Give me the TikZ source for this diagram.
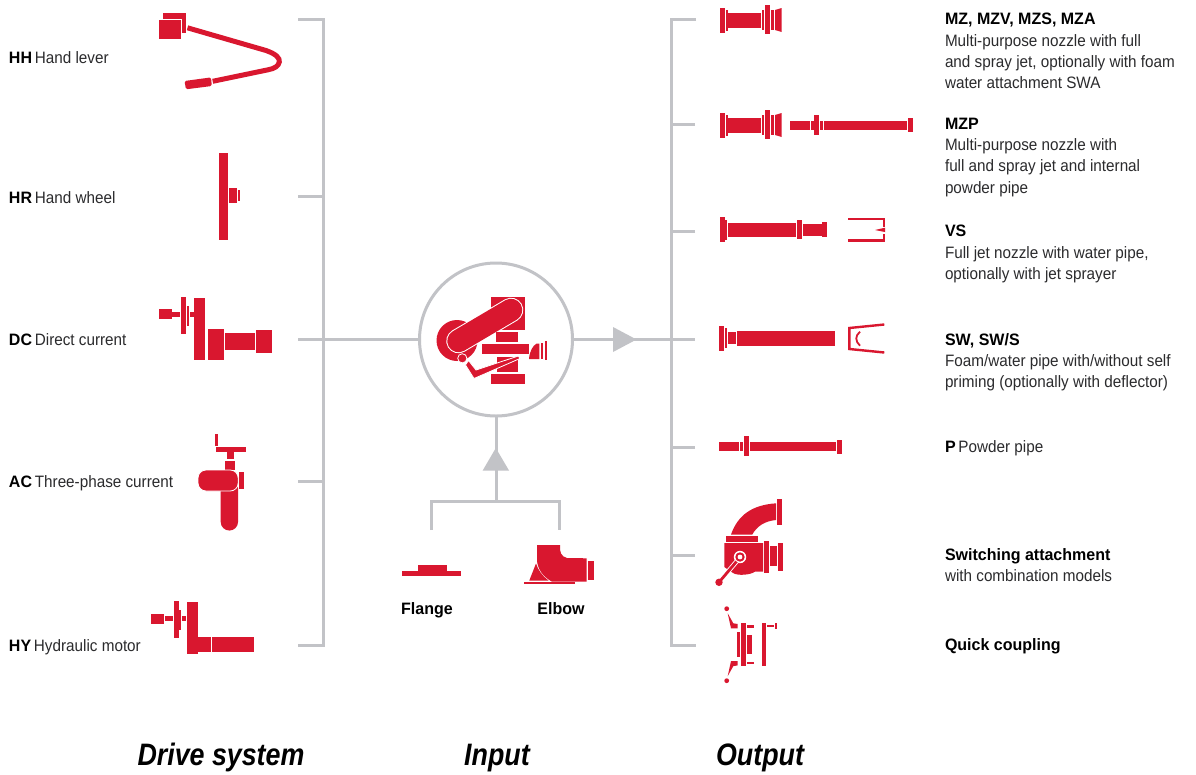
\documentclass[tikz,border=0pt]{standalone}
\usepackage{fontspec}
\setmainfont{Liberation Sans}[FakeStretch=0.925]
\newfontfamily\boldf{Liberation Sans}[FakeStretch=0.97,UprightFont={* Bold}]
\newfontfamily\headf{Liberation Sans}[FakeStretch=0.865,UprightFont={* Bold Italic}]
\newcommand{\bt}[1]{{\boldf\color{black}#1}\kern-1.5pt\relax}
\definecolor{crim}{HTML}{D9172F}
\definecolor{rule}{HTML}{C2C3C7}
\definecolor{ink}{HTML}{2B2B2D}
\tikzset{
  part/.style={fill=crim,draw=none},
  outl/.style={fill=crim,draw=white,line width=0.8pt},
  wire/.style={draw=crim,line width=2.4pt,fill=none},
  tree/.style={draw=rule,line width=3pt},
  tip/.style={fill=rule,draw=none},
  lab/.style={anchor=base west,inner sep=0pt,outer sep=0pt,text=ink,font=\fontsize{16.5}{18}\selectfont},
  blab/.style={lab,text=black,font=\fontsize{16.5}{18}\selectfont\boldf},
  clab/.style={anchor=base,inner sep=0pt,outer sep=0pt,text=black,font=\fontsize{16.5}{18}\selectfont\boldf},
  head/.style={anchor=base,inner sep=0pt,outer sep=0pt,text=black,font=\fontsize{31}{34}\selectfont\headf},
  hubc/.style={circle,draw=rule,line width=3pt,minimum size=153pt,inner sep=0pt,outer sep=0pt},
}
\begin{document}
\begin{tikzpicture}[x=1pt,y=-1pt]
\fill[white] (0,0) rectangle (1196,774);
\useasboundingbox (0,0) rectangle (1196,774);

% ---------- tree ----------
\node[hubc] (hub) at (496,339.5) {};
\coordinate (ltop) at (323,19.5);
\coordinate (lbot) at (323,645);
\coordinate (l1) at (298,19.5);
\coordinate (l2) at (298,196.5);
\coordinate (l3) at (298,339.5);
\coordinate (l4) at (298,481);
\coordinate (l5) at (298,645);
\coordinate (rtop) at (671.5,19.5);
\coordinate (rbot) at (671.5,645);
\coordinate (r1) at (696,19.5);
\coordinate (r2) at (695,124.5);
\coordinate (r3) at (695,231);
\coordinate (r4) at (695,339.5);
\coordinate (r5) at (695,447);
\coordinate (r6) at (695,555);
\coordinate (r7) at (696,645);
\coordinate (inj) at (496,501.3);
\coordinate (inl) at (431.7,530);
\coordinate (inr) at (559.3,530);
\draw[tree,line join=miter] (l1) -- (ltop) -- (lbot) -- (l5);
\draw[tree] (l2) -- (l2-|ltop);
\draw[tree] (l4) -- (l4-|ltop);
\draw[tree] (l3) -- (hub.west);
\draw[tree,line join=miter] (r1) -- (rtop) -- (rbot) -- (r7);
\foreach \c in {r2,r3,r5,r6}{\draw[tree] (\c) -- (\c-|rtop);}
\draw[tree] (hub.east) -- (r4);
\draw[tree] (hub.south) -- (inj);
\draw[tree,line join=miter] (inl) -- (inl|-inj) -- (inr|-inj) -- (inr);
\fill[tip] (613,327) -- (636.5,339.5) -- (613,352) -- cycle;
\fill[tip] (495.8,448) -- (509,470.5) -- (482.7,470.5) -- cycle;

% ---------- HH ----------
\fill[part] (163.3,13.3) rectangle (186,32.7);
\fill[outl] (158,19) rectangle (181,39);
\draw[crim,line width=5pt] (187.5,27.8) -- (266,50.5) .. controls (276,54) and (280,58) .. (279.3,62) .. controls (278.5,66) and (275,68.5) .. (268,69.8) -- (212.7,81.3);
\fill[part,rounded corners=1.5pt] (184.5,81) -- (211,77.4) -- (211.8,86) -- (186,89.3) -- cycle;

% ---------- HR ----------
\fill[part] (219,153) rectangle (228,240);
\fill[part] (229,188) rectangle (237,203);
\fill[part] (238,190) rectangle (240,201);

% ---------- DC ----------
\fill[part] (159,309) rectangle (172,319);
\fill[part] (172,312) rectangle (180,317);
\fill[part] (181,297) rectangle (186,334);
\fill[part] (187,306) rectangle (189,326);
\fill[part] (190,312) rectangle (194,317);
\fill[part] (194,298) rectangle (205,360);
\fill[part] (208,329) rectangle (224,360);
\fill[part] (225,333) rectangle (255,350);
\fill[part] (256,330) rectangle (272,353);

% ---------- AC ----------
\fill[part] (215,434) rectangle (218,446);
\fill[part] (216,447) rectangle (246,452);
\fill[part] (227,452) rectangle (234,459);
\fill[part] (225,460.7) rectangle (235.3,470);
\fill[part,rounded corners=8.5pt] (220.7,480) rectangle (238,530.5);
\fill[outl,rounded corners=8pt] (198,470) rectangle (238.2,491);
\fill[part] (239,472) rectangle (244,489);

% ---------- HY ----------
\fill[part] (151,614) rectangle (164,624);
\fill[part] (165,616) rectangle (173,621);
\fill[part] (174,601) rectangle (179,638);
\fill[part] (179,610) rectangle (181,630);
\fill[part] (182,616) rectangle (186,621);
\fill[part] (187,602) rectangle (198,654);
\fill[part] (198,637) rectangle (211,652);
\fill[part] (212,637) rectangle (254,652);

% ---------- hub symbol ----------
\fill[part] (457,340.5) circle[radius=20.5];
\fill[part] (490.7,297) rectangle (524.7,330.3);
\draw[white,line width=24.5pt,line cap=round] (458.5,341) -- (511,310);
\draw[crim,line width=22.5pt,line cap=round] (458.5,341) -- (511,310);
\fill[part] (496,332.3) rectangle (518,341.7);
\fill[part] (496.7,356.7) rectangle (518,372.3);
\fill[part] (491,374) rectangle (525,384);
\fill[outl] (465.5,365) -- (474,378.5) -- (520,358.5) -- (518.3,356) -- (476,370) -- (468.5,360.5) -- cycle;
\fill[outl] (462.3,358.3) circle[radius=4.6];
\fill[part] (482,343.7) rectangle (529,354.3);
\fill[part] (529,359.2) .. controls (529.5,351) and (533,345.5) .. (536.5,343.7) -- (539.3,343.7) -- (539.3,359.2) -- cycle;
\fill[part] (540.7,342.7) rectangle (543.3,359);
\fill[part] (545.3,341) rectangle (547,360.3);

% ---------- flange / elbow ----------
\fill[part] (402,571) rectangle (461,576);
\fill[part] (418,565) rectangle (447,571);
\fill[part] (537,545) -- (560,545) .. controls (559.5,552) and (561,556.5) .. (567,558) -- (586.7,558.3) -- (586.7,581.7) -- (552,581.7) .. controls (542,576) and (538,569) .. (537,561) -- cycle;
\fill[part] (536,563.5) .. controls (538,570) and (542,575.5) .. (548.5,580.5) -- (529.3,580.5) -- cycle;
\fill[part] (588,561) rectangle (594,580);
\fill[part] (524,581.8) rectangle (575,583.8);

% ---------- MZ / MZP nozzles ----------
\foreach \d in {0,105}{
  \fill[part] (720,8+\d) rectangle (725,33+\d);
  \fill[part] (726,10+\d) rectangle (728,31+\d);
  \fill[part] (728,13+\d) rectangle (761,28+\d);
  \fill[part] (762,10+\d) rectangle (764,30+\d);
  \fill[part] (765,5+\d) rectangle (770,34+\d);
  \fill[part] (771,10+\d) rectangle (774,30+\d);
  \fill[part] (775,10+\d) -- (781.7,8+\d) -- (781.7,32+\d) -- (775,30+\d) -- cycle;
}
\fill[part] (790,121) rectangle (810,130);
\fill[part] (811,121) rectangle (814,130);
\fill[part] (814,115) rectangle (819,135);
\fill[part] (820,121) rectangle (823,130);
\fill[part] (824,121) rectangle (907,130);
\fill[part] (908,118) rectangle (913,132);

% ---------- VS ----------
\fill[part] (720,217) rectangle (725,242);
\fill[part] (725,220) rectangle (727,240);
\fill[part] (728,223) rectangle (796,237);
\fill[part] (797,220) rectangle (802,239);
\fill[part] (803,224) rectangle (822,236);
\fill[part] (822,222) rectangle (827,237);
\draw[wire,line cap=butt] (848.3,219.2) -- (884,219.2) -- (884,226.5);
\draw[wire,line cap=butt] (848.3,240.5) -- (884,240.5) -- (884,233.5);
\fill[part] (875,230) -- (885,227.7) -- (885,232) -- cycle;

% ---------- SW ----------
\fill[part] (719,326) rectangle (724,351);
\fill[part] (725,328) rectangle (727,348);
\fill[part] (728,332) rectangle (736,344);
\fill[part] (737,331) rectangle (835,346);
\draw[wire,line join=miter] (884.3,324.5) -- (849.3,328) -- (849.3,349) -- (884.3,352.5);
\draw[crim,line width=1.8pt] (860,331.7) .. controls (855,336) and (855,341) .. (860,345.7);

% ---------- P ----------
\fill[part] (719,442) rectangle (739,451);
\fill[part] (740,442) rectangle (743,451);
\fill[part] (744,436) rectangle (749,456);
\fill[part] (750,442) rectangle (836,451);
\fill[part] (837,440) rectangle (842,454);

% ---------- switching attachment ----------
\fill[part] (731,534.5) .. controls (738,515) and (752,505) .. (776,503.3) -- (776,520) .. controls (765,521) and (757,526) .. (752.3,534.5) -- cycle;
\fill[part] (777,499) rectangle (782,525);
\fill[part] (726,536) rectangle (758,542);
\fill[part] (724.3,543) -- (763,543) -- (763,571.7) -- (755,571.7) .. controls (750,575) and (738,576) .. (733,573) -- (724.3,567) -- cycle;
\fill[part] (764,541) rectangle (769,573);
\fill[part] (770,546) rectangle (777,566);
\fill[part] (778,543) rectangle (783,571);
\fill[white] (740,557) circle[radius=6.2];
\fill[part] (740,557) circle[radius=4.7];
\fill[white] (740,557) circle[radius=2.4];
\draw[white,line width=4.6pt] (736.5,561.5) -- (719,582.3);
\draw[crim,line width=2.8pt] (736.5,561.5) -- (719,582.3);
\fill[part] (719,582.3) circle[radius=3.7];

% ---------- quick coupling ----------
\fill[part] (726.7,608.7) circle[radius=2.4];
\fill[part] (726.7,680.7) circle[radius=2.4];
\fill[part] (727.7,613.3) -- (733.3,623.3) -- (737.7,624) -- (737.7,628.3) -- (731,628.3) -- cycle;
\fill[part] (727.7,676.1) -- (733.3,666.1) -- (737.7,665.4) -- (737.7,661.1) -- (731,661.1) -- cycle;
\fill[part] (737.3,632.3) rectangle (740.3,656.7);
\fill[part] (741.3,623.3) rectangle (746,666);
\fill[part] (747.3,635) rectangle (751.7,654);
\fill[part] (747.3,625.3) rectangle (754.3,627.7);
\fill[part] (747.3,661.7) rectangle (754.3,663.7);
\fill[part] (761.7,623.3) rectangle (766,666);
\fill[part] (767,625.3) rectangle (774,627.3);
\fill[part] (774.7,623.3) rectangle (776.7,629.3);

% ---------- labels left ----------
\node[lab] (t1) at (9,63.5) {\bt{HH} Hand lever};
\node[lab] (t2) at (9,203.5) {\bt{HR} Hand wheel};
\node[lab] (t3) at (9,345.5) {\bt{DC} Direct current};
\node[lab] (t4) at (9,487.5) {\bt{AC} Three-phase current};
\node[lab] (t5) at (9,651.5) {\bt{HY} Hydraulic motor};

% ---------- labels centre ----------
\node[clab] (t6) at (427,614.5) {Flange};
\node[clab] (t7) at (561,614.5) {Elbow};

% ---------- labels right ----------
\node[blab] (a0) at (945,24.5) {MZ, MZV, MZS, MZA};
\node[lab] (a1) at (945,46.5) {Multi-purpose nozzle with full};
\node[lab] (a2) at (945,67.5) {and spray jet, optionally with foam};
\node[lab] (a3) at (945,88.5) {water attachment SWA};
\node[blab] (b0) at (945,129.5) {MZP};
\node[lab] (b1) at (945,150.5) {Multi-purpose nozzle with};
\node[lab] (b2) at (945,171.5) {full and spray jet and internal};
\node[lab] (b3) at (945,193) {powder pipe};
\node[blab] (c0) at (945,236.5) {VS};
\node[lab] (c1) at (945,258.5) {Full jet nozzle with water pipe,};
\node[lab] (c2) at (945,279.5) {optionally with jet sprayer};
\node[blab] (d0) at (945,345.5) {SW, SW/S};
\node[lab] (d1) at (945,366.5) {Foam/water pipe with/without self};
\node[lab] (d2) at (945,387.5) {priming (optionally with deflector)};
\node[lab] (e0) at (945,452.5) {\bt{P} Powder pipe};
\node[blab] (f0) at (945,560.5) {Switching attachment};
\node[lab] (f1) at (945,581.5) {with combination models};
\node[blab] (g0) at (945,650.5) {Quick coupling};

% ---------- headings ----------
\node[head] (h1) at (221,765) {Drive system};
\node[head] (h2) at (497,765) {Input};
\node[head] (h3) at (760,765) {Output};
\end{tikzpicture}
\end{document}
